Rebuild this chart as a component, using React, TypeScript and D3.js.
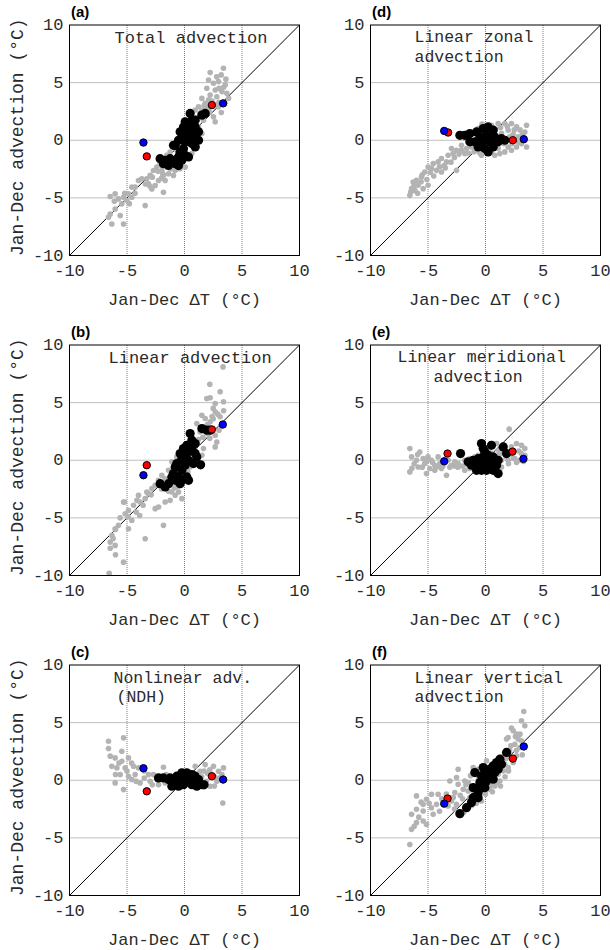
import React from 'react';
import * as d3 from 'd3';

type Pt = [number, number];

const axisTicks = [-10, -5, 0, 5, 10];
const gridTicks = [-5, 0, 5];
const xTitle = 'Jan-Dec ΔT (°C)';
const yTitle = 'Jan-Dec advection (°C)';
const panelLetters = ['(a)', '(b)', '(c)', '(d)', '(e)', '(f)'];
const panelTitles = [
  ['Total advection'],
  ['Linear advection'],
  ['Nonlinear adv.', '(NDH)'],
  ['Linear zonal', 'advection'],
  ['Linear meridional', 'advection'],
  ['Linear vertical', 'advection'],
];

// ---------- (a) Total advection ----------
const grayA: Pt[] = [
  [2.23, 5.87], [3.39, 6.25], [3.19, 5.67], [2.09, 5.23], [2.52, 4.94], [2.96, 5.09], [3.54, 4.8], [1.94, 4.51],
  [2.67, 4.36], [3.25, 4.22], [3.68, 4.07], [2.23, 3.92], [1.51, 3.63], [2.81, 3.78], [3.83, 3.63], [1.8, 3.2],
  [1.22, 2.91], [0.93, 2.62], [1.36, 2.33], [2.67, 1.6], [2.52, 2.03], [2.09, 2.76], [2.96, 2.91], [1.65, 1.74],
  [1.22, 1.16], [1.51, 0.58], [0.93, 0], [1.07, -0.58], [0.64, -1.16], [-0.52, -0.29], [-0.81, -0.73], [-1.25, -1.02],
  [-1.54, -1.31], [-1.83, -1.74], [-2.12, -2.03], [-2.41, -2.33], [-2.7, -2.62], [-2.99, -3.05], [-3.28, -3.34],
  [-3.71, -3.34], [-3.13, -3.78], [-2.55, -3.92], [-2.26, -3.49], [-1.83, -3.05], [-1.39, -2.91], [-0.81, -2.62],
  [-0.38, -2.47], [-0.96, -3.05], [-1.83, -4.51], [-1.68, -3.49], [-2.84, -4.22], [-4.0, -3.49], [-4.29, -4.07],
  [-4.87, -4.65], [-5.3, -4.94], [-5.74, -5.09], [-6.46, -4.88], [-6.03, -4.65], [-5.01, -5.23], [-4.58, -4.94],
  [-5.45, -5.52], [-3.42, -5.67], [-6.03, -5.96], [-6.46, -6.4], [-6.61, -6.69], [-5.59, -6.54], [-5.3, -7.27],
  [-6.32, -7.27], [-4.58, -4.07], [0.06, -2.33], [-1.1, -2.03], [-1.97, -2.62], [-1.54, -2.33], [3.0, 3.3],
  [2.4, 3.4], [1.9, 2.9], [0.6, 1.3], [1.0, 1.9], [-0.3, -1.8], [-1.2, -2.5], [-2.0, -3.3], [-0.5, -2.0],
  [1.7, 3.0], [2.1, 3.5], [2.6, 3.1], [3.4, 4.6], [3.0, 4.5], [2.8, 5.5], [3.6, 5.3], [1.5, 2.6], [2.2, 2.4],
  [3.2, 2.4], [3.5, 3.2], [-1.9, -2.9], [-2.3, -2.7], [-2.8, -3.2], [-3.4, -3.8], [-2.0, -2.2], [-1.5, -1.8],
  [-0.2, -1.3], [-0.6, -1.0], [-3.0, -4.0], [-4.8, -5.5], [-5.2, -4.6], [-6.1, -5.3], [-4.3, -4.6],
];
const blackA: Pt[] = [
  [0.49, 2.33], [0.64, 1.74], [1.51, 2.18], [1.8, 2.33], [0.06, 1.6], [-0.09, 1.16], [0.35, 1.16], [0.93, 1.16],
  [-0.38, 0.73], [0.2, 0.73], [0.78, 0.73], [1.22, 0.73], [-0.23, 0.29], [0.35, 0.29], [0.93, 0.15], [-0.52, 0],
  [0.06, -0.15], [0.64, -0.29], [-0.81, -0.44], [0.93, -0.58], [-0.09, -0.73], [-0.38, -1.02], [0.06, -1.31],
  [-0.52, -1.45], [-0.81, -1.74], [-1.25, -1.6], [-1.68, -1.74], [-2.12, -1.6], [-1.83, -2.03], [-1.39, -2.18],
  [-0.81, -2.03], [-0.23, -1.74], [0.35, -1.45], [-0.52, -2.2], [-0.96, -0.44], [1.22, 0], [0.93, 1.74],
];
const redA: Pt[] = [[2.38, 3.05], [-3.28, -1.4]];
const blueA: Pt[] = [[3.36, 3.2], [-3.57, -0.2]];

// ---------- (b) Linear advection ----------
const grayB: Pt[] = [
  [3.35, 8.1], [2.2, 6.6], [3.1, 5.94], [2.23, 5.42], [1.94, 5.36], [3.39, 5.07], [2.67, 4.93], [1.51, 3.91],
  [2.67, 4.2], [3.1, 3.77], [1.8, 3.62], [2.23, 3.33], [1.07, 3.19], [1.36, 2.46], [1.8, 2.9], [2.67, 2.17],
  [2.81, 1.59], [2.67, 1.16], [1.65, 1.01], [0.93, 0.87], [1.51, 0.43], [0.64, 0], [0.93, -0.29], [0.49, -0.58],
  [-0.67, 0.29], [-1.1, -0.14], [-1.39, -0.87], [-1.97, -1.3], [-2.26, -1.74], [-2.55, -2.17], [-2.84, -2.46],
  [-3.13, -2.9], [-3.42, -3.33], [-3.86, -3.62], [-4.0, -3.04], [-4.43, -3.91], [-4.87, -4.35], [-5.16, -4.64],
  [-5.3, -3.62], [-4.58, -5.22], [-5.74, -5.65], [-6.03, -5.94], [-4.87, -5.94], [-6.32, -6.52], [-6.46, -7.1],
  [-6.03, -7.39], [-5.3, -8.84], [-3.42, -6.81], [-1.83, -5.65], [-2.55, -4.2], [-2.26, -4.06], [-1.68, -3.62],
  [-1.25, -3.48], [-0.81, -3.04], [-0.23, -3.33], [-0.52, -2.75], [-1.1, -2.75], [-1.54, -2.17], [-3.28, -2.75],
  [-4.14, -3.48], [-6.55, -9.8], [-6.46, -7.63], [-6.0, -8.2], [-6.0, -6.0], [-5.22, -3.63], [2.4, 3.8],
  [3.2, 3.0], [2.0, 2.3], [1.2, 1.8], [0.3, -1.0], [-0.6, -2.3], [2.5, 4.5], [2.9, 4.0], [3.4, 4.3], [2.0, 3.1],
  [2.5, 3.6], [3.0, 2.6], [1.6, 2.0], [2.2, 1.9], [1.1, 1.4], [-1.7, -1.6], [-2.0, -2.5], [-2.9, -3.0],
  [-3.6, -3.9], [-4.2, -4.5], [-1.4, -2.7], [-0.9, -2.4], [-5.6, -5.0], [-4.9, -4.9], [-6.2, -6.8], [-3.9, -4.8],
];
const blackB: Pt[] = [
  [0.49, 2.32], [0.64, 1.74], [1.51, 2.75], [1.94, 2.61], [2.23, 2.61], [0.2, 1.3], [-0.09, 1.01], [0.64, 1.01],
  [0.93, 0.58], [-0.38, 0.58], [0.2, 0.58], [1.07, 0.29], [-0.23, 0.14], [0.35, 0], [-0.67, -0.29], [0.06, -0.43],
  [0.78, -0.29], [1.4, -0.4], [-0.81, -0.58], [-0.23, -0.87], [-0.96, -1.16], [-1.1, -1.45], [-0.52, -1.45],
  [0.2, -1.45], [-0.23, -1.74], [-0.81, -1.74], [-1.39, -2.03], [-1.68, -2.32], [-2.12, -2.03], [-0.38, -2.03],
  [0.35, -1.74], [0.93, 1.45],
];
const redB: Pt[] = [[2.38, 2.67], [-3.28, -0.43]];
const blueB: Pt[] = [[3.33, 3.1], [-3.57, -1.3]];

// ---------- (c) Nonlinear advection (NDH) ----------
const grayC: Pt[] = [
  [-6.61, 3.39], [-5.3, 3.68], [-6.61, 2.75], [-6.46, 2.09], [-6.03, 1.94], [-5.45, 2.52], [-4.87, 1.94],
  [-5.45, 1.65], [-6.32, 1.22], [-5.88, 1.07], [-5.16, 1.07], [-4.43, 1.22], [-4.0, 1.07], [-5.59, 0.49],
  [-4.87, 0.35], [-4.29, 0.49], [-6.03, -0.23], [-5.3, -0.81], [-4.58, 0.06], [-3.86, -0.23], [-2.99, -0.09],
  [-2.7, 0.49], [-1.83, 1.13], [-2.26, -0.38], [-1.68, -0.23], [-1.1, -0.38], [0.93, 1.22], [1.36, 0.78],
  [1.8, 1.36], [2.52, 1.22], [2.96, 0.78], [3.39, 1.07], [3.25, 0.49], [2.81, -0.09], [2.23, -0.52], [1.8, -0.38],
  [1.22, -0.09], [3.33, -1.97], [0.06, -0.23], [-0.52, -0.38], [0.64, 0.2], [-3.13, 0.49], [2.0, 0.6],
  [2.6, 0.3], [1.5, 0.3], [-1.4, 0.3], [-2.0, 0.1], [-3.5, 0.2], [-5.0, 0.8], [-4.6, 1.5], [-3.5, 0.8],
  [-2.4, 0.3], [-1.6, 0.5], [-1.2, -0.3], [0.4, -0.4], [1.0, 0.4], [1.7, 0.8], [2.2, 0.9], [3.0, 0.2],
  [2.6, -0.5], [-6.0, 0.5], [-5.7, 1.5], [-4.2, -0.1], [-2.8, -0.4], [1.9, -0.1], [0.8, -0.5],
];
const blackC: Pt[] = [
  [-2.26, 0.2], [-1.83, 0.2], [-1.39, 0.06], [-0.96, -0.09], [-0.67, 0.35], [-0.23, 0.64], [0.2, 0.64],
  [0.64, 0.49], [0.93, 0.35], [-0.38, 0.06], [0.06, 0.06], [0.49, -0.09], [1.22, 0.06], [-0.81, -0.38],
  [-0.09, -0.38], [0.64, -0.38], [1.51, -0.38], [-1.1, -0.52], [-0.52, -0.52], [1.07, -0.52], [1.7, -0.4],
  [-1.25, 0.2],
];
const redC: Pt[] = [[-3.28, -0.96], [2.38, 0.35]];
const blueC: Pt[] = [[-3.57, 1.04], [3.36, 0.06]];

// ---------- (d) Linear zonal advection ----------
const grayD: Pt[] = [
  [3.57, 1.3], [3.42, 0.72], [3.57, -0.58], [3.13, -0.29], [2.7, -0.58], [2.26, -0.87], [1.68, -1.01],
  [1.25, -1.16], [1.1, 1.45], [1.68, 1.45], [2.26, 1.45], [2.7, 1.16], [0.52, 1.3], [-0.06, 1.3], [-0.64, 1.01],
  [-1.07, 0.58], [-1.36, 0], [-1.22, -0.58], [-1.65, -0.72], [-2.09, -0.87], [-2.52, -0.87], [-2.81, -1.16],
  [-3.25, -1.3], [-3.39, -1.88], [-3.83, -1.59], [-4.12, -1.88], [-4.55, -2.03], [-4.7, -2.46], [-4.99, -2.32],
  [-5.28, -2.75], [-4.26, -2.61], [-3.83, -2.75], [-2.52, -2.61], [-5.57, -3.19], [-6.0, -3.48], [-6.29, -3.62],
  [-5.86, -3.91], [-6.43, -4.2], [-6.58, -4.78], [-5.42, -4.2], [-4.99, -3.91], [-6.14, -4.35], [-1.8, -1.16],
  [-0.78, -0.87], [-0.35, -1.3], [0.81, -1.3], [1.97, -0.58], [1.97, 0.87], [2.84, 0.29], [-2.09, -0.43],
  [-2.96, -0.72], [1.4, 0.6], [2.4, 0.5], [3.0, 0.9], [-1.8, 0.2], [-3.6, -2.2], [-4.5, -3.1], [-5.6, -3.6],
  [0.8, 1.0], [1.3, 1.1], [1.9, 1.2], [2.5, 0.9], [3.2, 0.5], [2.1, 0.3], [1.6, -0.3], [2.3, -0.3], [2.9, -0.2],
  [3.3, 0.0], [1.1, -0.7], [0.5, -1.0], [-0.5, -1.1], [-1.0, -1.0], [-1.5, -1.1], [-2.3, -1.2], [-2.7, -1.5],
  [-3.0, -1.9], [-3.5, -2.4], [-4.0, -2.3], [-4.8, -2.8], [-5.1, -3.4], [-5.5, -3.0], [-6.2, -3.9], [-6.5, -4.5],
  [-5.9, -4.6], [-0.3, 1.4], [-0.9, 0.8],
];
const blackD: Pt[] = [
  [-2.23, 0.43], [-1.8, 0.43], [-1.36, 0.58], [-0.78, 0.72], [-0.2, 1.01], [0.23, 1.16], [0.67, 0.87],
  [-0.49, 0.29], [0.09, 0.43], [0.81, 0.29], [1.1, -0.14], [-0.93, -0.14], [-0.35, -0.29], [0.38, -0.14],
  [-0.06, -0.72], [0.23, -1.01], [-0.64, -0.58], [0.67, -0.58], [-0.2, 0], [-1.36, -0.14], [1.39, 0.14],
  [1.68, 0],
];
const redD: Pt[] = [[-3.25, 0.67], [2.38, 0]];
const blueD: Pt[] = [[-3.59, 0.81], [3.33, 0.09]];

// ---------- (e) Linear meridional advection ----------
const grayE: Pt[] = [
  [-6.58, 1.01], [-5.71, 0.72], [-6.43, 0.29], [-6.0, 0], [-5.42, 0.14], [-6.58, -1.01], [-5.86, -0.58],
  [-5.28, -0.29], [-4.84, -0.72], [-4.41, -0.43], [-3.97, -0.29], [-3.39, -1.3], [-2.96, -0.43], [-2.67, -0.14],
  [-2.38, -0.29], [-1.8, 0], [-1.36, 0.14], [-0.93, 0.29], [-0.64, 0.43], [-0.2, 0.58], [0.38, 1.01],
  [0.96, 1.45], [1.1, 0.87], [1.68, 1.3], [2.26, 1.16], [2.7, 1.45], [3.13, 1.3], [3.42, 1.01], [3.42, 0.43],
  [2.99, 0], [2.55, 0.14], [1.97, 0], [1.39, 0], [1.39, -0.58], [0.81, -0.87], [-1.8, -0.87], [-1.36, -0.72],
  [-4.41, -0.87], [-3.83, -0.72], [-5.13, -1.16], [2.06, 2.7], [-4.12, 0.29], [-3.25, 0], [-4.7, 0],
  [2.9, 0.8], [2.2, 0.6], [1.6, 0.7], [-2.0, -0.5], [-4.0, -0.5], [-5.0, 0.3], [-6.2, -0.3], [-5.5, -0.6],
  [-5.1, -0.1], [-4.6, -0.2], [-4.3, -0.6], [-3.7, -0.5], [-3.1, -0.6], [-2.7, -0.5], [-2.4, -0.6], [-1.6, -0.4],
  [-1.0, -0.3], [-0.5, -0.5], [0.5, 0.6], [1.2, 0.5], [1.8, 0.3], [2.4, 0.2], [3.1, 0.6], [3.3, -0.1],
  [2.7, -0.2], [2.0, -0.3], [1.0, -0.5], [0.5, 1.4], [-5.9, 0.5], [-6.4, -0.7],
];
const blackE: Pt[] = [
  [-2.17, 0.58], [-0.35, 1.45], [-0.2, 1.01], [0.52, 1.3], [1.54, 1.16], [1.83, 0.58], [-1.51, -0.14],
  [-1.07, 0], [-0.64, 0.14], [-0.2, 0.29], [0.23, 0.43], [0.67, 0.29], [1.1, 0], [-1.22, -0.43], [-0.64, -0.43],
  [-0.06, -0.29], [0.38, -0.29], [0.96, -0.43], [-0.35, -0.87], [0.09, -0.87], [0.67, -0.87], [1.1, -1.16],
  [-0.78, -0.87], [-0.06, 0.72], [0.23, -0.14],
];
const redE: Pt[] = [[-3.3, 0.58], [2.35, 0.75]];
const blueE: Pt[] = [[-3.59, -0.09], [3.3, 0.12]];

// ---------- (f) Linear vertical advection ----------
const grayF: Pt[] = [
  [3.33, 5.97], [3.13, 5.16], [3.42, 4.72], [2.26, 4.52], [2.41, 4.29], [2.7, 4.0], [1.97, 3.71], [1.83, 3.57],
  [2.84, 3.57], [3.13, 3.42], [2.55, 3.13], [2.99, 2.84], [2.7, 2.12], [2.41, 1.54], [1.97, 1.1], [1.68, 1.39],
  [1.54, 0.81], [1.1, 0.52], [1.25, -0.06], [0.81, -0.49], [0.09, 1.68], [-0.64, 0.96], [-1.07, 1.1],
  [-2.38, 0.96], [-2.52, 0.23], [-3.1, -0.06], [-1.8, -0.06], [-2.38, -0.35], [-1.94, -0.78], [-1.51, -0.93],
  [-2.67, -1.07], [-1.36, -1.51], [-0.78, -1.36], [-0.35, -1.8], [-2.96, -1.8], [-3.25, -2.23], [-2.52, -2.09],
  [-4.12, -1.22], [-4.7, -1.22], [-5.13, -1.65], [-5.42, -2.09], [-6.0, -1.36], [-6.0, -2.52], [-6.43, -2.96],
  [-5.42, -2.67], [-4.7, -2.38], [-4.55, -2.96], [-4.26, -2.09], [-6.0, -3.68], [-5.42, -3.54], [-6.43, -4.26],
  [-6.58, -5.57], [-5.13, -3.83], [-3.1, -1.51], [0.38, -0.78], [-0.49, -1.22], [2.1, 2.6], [1.4, 2.0],
  [-1.5, -0.2], [-2.0, -1.6], [0.5, 0.2], [-0.3, 0.5], [2.6, 3.8], [3.0, 4.0], [2.2, 3.0], [2.7, 2.6],
  [3.2, 2.2], [1.8, 1.9], [2.0, 0.8], [1.7, 0.3], [1.3, -0.5], [0.6, -1.0], [0.0, -1.2], [-1.0, -1.0],
  [-1.7, -0.4], [-2.2, -1.3], [-2.8, -1.5], [-3.4, -1.2], [-3.8, -1.6], [-4.0, -2.7], [-4.9, -2.0],
  [-5.6, -1.9], [-5.8, -3.2], [-6.2, -4.0], [-2.7, -2.5], [-1.9, -2.8], [-1.2, -2.2], [-0.8, -2.0],
  [-0.6, 0.2], [-1.3, 0.4], [0.5, -0.4], [1.0, -0.2],
];
const blackF: Pt[] = [
  [1.83, 2.41], [1.25, 1.83], [0.96, 1.54], [0.67, 1.25], [1.39, 1.39], [0.38, 0.96], [-0.06, 0.67],
  [0.81, 0.67], [-0.93, 0.67], [-0.35, 0.38], [0.23, 0.38], [-0.49, -0.2], [0.09, -0.06], [0.67, 0.09],
  [-0.35, -0.64], [-1.07, -0.64], [-0.64, -1.07], [-1.07, -1.51], [-1.22, -1.94], [-1.65, -2.38],
  [-2.23, -2.9], [-0.06, -0.64], [-0.64, -1.51], [1.1, 0.96], [-0.2, 1.1],
];
const redF: Pt[] = [[-3.3, -1.59], [2.38, 1.88]];
const blueF: Pt[] = [[-3.59, -2.03], [3.33, 2.93]];

const grayAll = [grayA, grayB, grayC, grayD, grayE, grayF];
const blackAll = [blackA, blackB, blackC, blackD, blackE, blackF];
const redAll = [redA, redB, redC, redD, redE, redF];
const blueAll = [blueA, blueB, blueC, blueD, blueE, blueF];

// layout
const PW = 230;
const PH = 230.5;
const colLeft = [69.5, 370.5];
const rowTop = [25, 345, 665];
const titleLayout: { dx: number; dy: number }[][] = [
  [{ dx: 45, dy: 18 }],
  [{ dx: 39, dy: 18 }],
  [{ dx: 44, dy: 17.5 }, { dx: 47, dy: 37 }],
  [{ dx: 44, dy: 17 }, { dx: 44, dy: 36.5 }],
  [{ dx: 27, dy: 17 }, { dx: 63, dy: 36.5 }],
  [{ dx: 44, dy: 17.5 }, { dx: 44, dy: 37 }],
];

const MONO = "'Liberation Mono', 'DejaVu Sans Mono', monospace";
const TEXT = '#2a2a2a';

function Panel({ i }: { i: number }) {
  const col = i < 3 ? 0 : 1;
  const row = i % 3;
  const left = colLeft[col];
  const top = rowTop[row];
  const x = d3.scaleLinear().domain([-10, 10]).range([left, left + PW]);
  const y = d3.scaleLinear().domain([-10, 10]).range([top + PH, top]);
  const line = d3.line<Pt>().x((d) => x(d[0])).y((d) => y(d[1]));
  const clipId = `clip-${i}`;
  const titleSize = panelTitles[i].length > 1 ? 16.5 : 17;
  return (
    <g>
      <defs>
        <clipPath id={clipId}>
          <rect x={left} y={top} width={PW} height={PH} />
        </clipPath>
      </defs>
      {gridTicks.map((t) => (
        <g key={'g' + t}>
          <line x1={x(t)} x2={x(t)} y1={top} y2={top + PH} stroke="#808080" strokeWidth={1} strokeDasharray="1,1" />
          <line x1={left} x2={left + PW} y1={y(t)} y2={y(t)} stroke="#808080" strokeWidth={1} strokeDasharray="1,1" />
        </g>
      ))}
      <path d={line([[-10, -10], [10, 10]]) || ''} stroke="#000" strokeWidth={1} fill="none" />
      <g clipPath={`url(#${clipId})`}>
        {grayAll[i].map((d, k) => (
          <circle key={'gr' + k} cx={x(d[0])} cy={y(d[1])} r={2.8} fill="#b3b3b3" />
        ))}
        {blackAll[i].map((d, k) => (
          <circle key={'bk' + k} cx={x(d[0])} cy={y(d[1])} r={4.6} fill="#000" />
        ))}
        {redAll[i].map((d, k) => (
          <circle key={'rd' + k} cx={x(d[0])} cy={y(d[1])} r={3.7} fill="#ff0000" stroke="#000" strokeWidth={1} />
        ))}
        {blueAll[i].map((d, k) => (
          <circle key={'bl' + k} cx={x(d[0])} cy={y(d[1])} r={3.7} fill="#0000ff" stroke="#000" strokeWidth={1} />
        ))}
      </g>
      <rect x={left} y={top} width={PW} height={PH} fill="none" stroke="#000" strokeWidth={1} />
      {axisTicks.map((t) => (
        <text key={'yt' + t} x={left - 6} y={y(t)} dy="0.3em" textAnchor="end" fontFamily={MONO} fontSize={17} fill={TEXT}>
          {String(t)}
        </text>
      ))}
      {axisTicks.map((t) => (
        <text key={'xt' + t} x={x(t)} y={top + PH + 20} textAnchor="middle" fontFamily={MONO} fontSize={17} fill={TEXT}>
          {String(t)}
        </text>
      ))}
      <text x={left + PW / 2} y={top + PH + 49} textAnchor="middle" fontFamily={MONO} fontSize={17} fill={TEXT}>
        {xTitle}
      </text>
      {col === 0 && (
        <text
          transform={`translate(${23},${top + PH / 2 - 3}) rotate(-90)`}
          textAnchor="middle"
          fontFamily={MONO}
          fontSize={18}
          fill={TEXT}
        >
          {yTitle}
        </text>
      )}
      {panelTitles[i].map((s, k) => (
        <text
          key={'t' + k}
          x={left + titleLayout[i][k].dx}
          y={top + titleLayout[i][k].dy}
          fontFamily={MONO}
          fontSize={titleSize}
          fill={TEXT}
        >
          {s}
        </text>
      ))}
      <text x={left + 1.5} y={top - 8} fontFamily="'Liberation Sans', Arial, sans-serif" fontWeight="bold" fontSize={15} fill="#000">
        {panelLetters[i]}
      </text>
    </g>
  );
}

export default function App() {
  return (
    <svg
      width={610}
      height={950}
      viewBox="0 0 610 950"
      style={{ position: 'absolute', left: 0, top: 0, background: '#fff' }}
    >
      <rect x={0} y={0} width={610} height={950} fill="#fff" />
      {[0, 1, 2, 3, 4, 5].map((i) => (
        <Panel key={i} i={i} />
      ))}
    </svg>
  );
}
